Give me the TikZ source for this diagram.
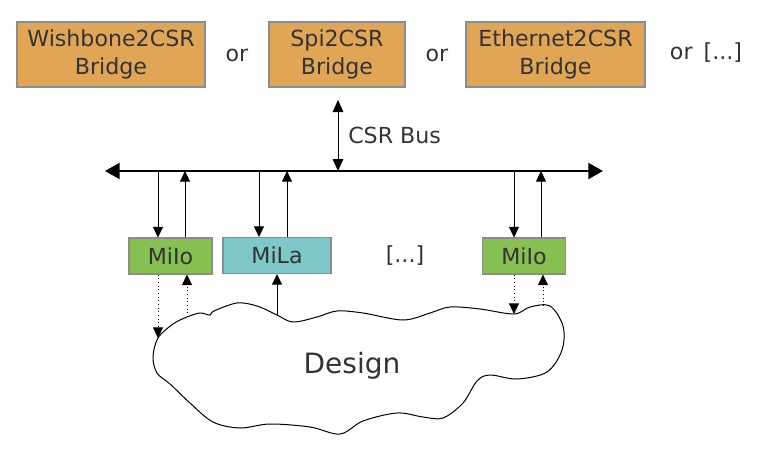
\documentclass[tikz,border=0pt]{standalone}
\usepackage{fontspec}
\setmainfont{DejaVu Sans}
\usetikzlibrary{positioning,arrows.meta}
\definecolor{txtgray}{HTML}{333333}
\definecolor{boxgray}{HTML}{8C8C8C}
\definecolor{bridgeorange}{HTML}{E0A656}
\definecolor{miiogreen}{HTML}{86C050}
\definecolor{milateal}{HTML}{7FC8CA}

\begin{document}
\begin{tikzpicture}[x=0.75pt, y=-0.75pt,
                    every node/.style={align=center, font=\fontsize{16.6}{20.5}\selectfont, text=txtgray},
                    block/.style={draw=boxgray, line width=0.8pt, inner sep=0pt},
                    bridge/.style={block, fill=bridgeorange, minimum height=48.75pt},
                    miio/.style={block, fill=miiogreen, minimum height=27pt, minimum width=62.25pt},
                    mila/.style={block, fill=milateal, minimum height=27pt, minimum width=81pt},
                    arr/.style={-{Triangle[length=8pt, width=7.5pt]}, line width=0.75pt},
                    dotarr/.style={arr, dotted},
                    bus/.style={{Triangle[length=11pt, width=12pt]}-{Triangle[length=11pt, width=12pt]}, line width=1.5pt}
                ]
    \useasboundingbox (0,0) rectangle (758,450);

    % Bridges
    \node (wb) [bridge, minimum width=141pt] at (111,54.5) {Wishbone2CSR\\Bridge};
    \node (or1) at (237,55) {or};
    \node (spi) [bridge, minimum width=102pt] at (337,54.5) {Spi2CSR\\Bridge};
    \node (or2) at (437,55) {or};
    \node (eth) [bridge, minimum width=134.25pt] at (555.5,54.5) {Ethernet2CSR\\Bridge};
    \node (or3) at (706,53) {or\enspace[...]};

    % Bus
    \coordinate (busW) at (105,171);
    \coordinate (busE) at (603,171);
    \coordinate (csrtop) at (338,100);
    \coordinate (csrbus) at (338,171);
    \draw[bus] (busW) -- (busE);
    \draw[{Triangle[length=9pt, width=8pt]}-{Triangle[length=9pt, width=8pt]}, line width=0.75pt] (csrtop) -- (csrbus)
        node (csrlabel) [midway, right=4pt] {CSR Bus};

    % Cores
    \node (miioA) [miio] at (170.5,256) {MiIo};
    \node (milaA) [mila] at (277,255.5) {MiLa};
    \node (dots) at (405,256) {[...]};
    \node (miioB) [miio] at (524,256) {MiIo};

    % Taps on the bus
    \foreach \name/\x in {tA/158, tB/185, tC/259, tD/287, tE/514, tF/541}
        \coordinate (\name) at (\x,171);

    \draw[arr] (tA) -- (tA |- miioA.north);
    \draw[arr] (tB |- miioA.north) -- (tB);
    \draw[arr] (tC) -- (tC |- milaA.north);
    \draw[arr] (tD |- milaA.north) -- (tD);
    \draw[arr] (tE) -- (tE |- miioB.north);
    \draw[arr] (tF |- miioB.north) -- (tF);

    % Design cloud
    \node (design) [font=\fontsize{21}{25}\selectfont] at (352,366) {Design};
    \draw[line width=0.75pt] plot[smooth cycle, tension=0.55] coordinates {
        (158,338) (173,324) (187,317) (200,313) (210,315) (214,311) (237,303) (257,306)
        (277,315) (293,322) (317,317) (337,311) (363,313) (403,320) (430,313) (450,307)
        (480,309) (514,314) (530,307) (550,306) (563,326) (562,350) (547,372) (517,379)
        (490,375) (477,381) (463,403) (443,418) (423,417) (397,413) (363,421) (340,434)
        (310,427) (270,424) (240,428) (213,422) (190,403) (170,384) (157,373) (153,357)};
    \coordinate (cA) at (158,338);
    \coordinate (cB) at (187,317);
    \coordinate (cC) at (277,315);
    \coordinate (cE) at (514,314);
    \coordinate (cF) at (543,306);

    % Probes into the design
    \draw[dotarr] (cA |- miioA.south) -- (cA);
    \draw[dotarr] (cB) -- (cB |- miioA.south);
    \draw[arr] (cC) -- (cC |- milaA.south);
    \draw[dotarr] (cE |- miioB.south) -- (cE);
    \draw[dotarr] (cF) -- (cF |- miioB.south);

\end{tikzpicture}
\end{document}
